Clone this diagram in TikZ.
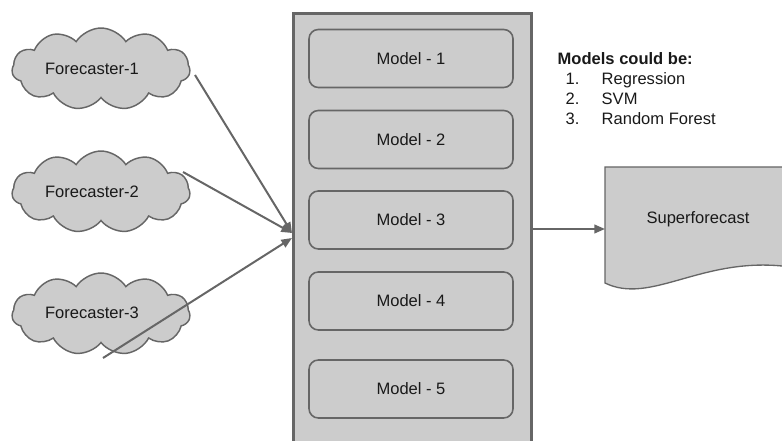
\documentclass[tikz,border=0pt]{standalone}
\usepackage{fontspec}
\setmainfont{Liberation Sans}
\usetikzlibrary{shapes.symbols,arrows.meta}

\definecolor{boxfill}{HTML}{CCCCCC}
\definecolor{boxline}{HTML}{666666}

\begin{document}
\begin{tikzpicture}[x=0.75pt,y=-0.75pt,
  every node/.style={font=\fontsize{12.4}{14}\selectfont, text=black!90},
  fcloud/.style={cloud, cloud puffs=11, cloud puff arc=115, aspect=2.2,
    draw=boxline, fill=boxfill, line width=1.1pt,
    minimum width=178*0.75pt, minimum height=82*0.75pt, inner sep=0pt},
  modelbox/.style={draw=boxline, fill=boxfill, line width=1.2pt,
    rounded corners=7pt, minimum width=204*0.75pt, minimum height=58*0.75pt},
  link/.style={draw=boxline, line width=1.5pt,
    -{Triangle[length=8pt,width=6.5pt]}}
]

% Page size
\useasboundingbox (0,0) rectangle (782,441);
\clip (0,0) rectangle (782,441);

% Forecasters
\node[fcloud] (c1) at (101,69) {};
\node[fcloud] (c2) at (101,192) {};
\node[fcloud] (c3) at (101,314) {};
\node (t1) at (92,69) {Forecaster-1};
\node (t2) at (92,192) {Forecaster-2};
\node (t3) at (92,313) {Forecaster-3};

% Big box holding the models
\node[draw=boxline, fill=boxfill, line width=2.25pt, anchor=north west,
  minimum width=238*0.75pt, minimum height=470*0.75pt] (models) at (292,12) {};

% Model boxes
\foreach \i/\y in {1/58.5, 2/139.5, 3/220, 4/301, 5/389}
  \node[modelbox] (m\i) at (411,\y) {Model - \i};

% Superforecast document
\draw[draw=boxline, fill=boxfill, line width=1pt]
  (605,167) -- (790,167) -- (790,266) -- (782,266)
  .. controls (700,258) and (650,305) .. (605,283) -- cycle;
\node[anchor=base] (sf) at (698,224) {Superforecast};

% List of models
\node[anchor=base west, font=\fontsize{12.4}{14}\selectfont\bfseries] (head) at (553,65) {Models could be:};
\foreach \n/\txt/\y in {1/Regression/85, 2/SVM/105, 3/Random Forest/125}{
  \node[anchor=base west] (n\n) at (561,\y) {\n.};
  \node[anchor=base west] (l\n) at (597,\y) {\txt};
}

% Connector ends
\coordinate (c1out) at (195,75);
\coordinate (c2out) at (183,172);
\coordinate (c3out) at (103,358);
\coordinate (in12) at (292,233);
\coordinate (in3) at (292,238);
\coordinate (mout) at (531,229);
\coordinate (sfin) at (605,229);

% Arrows
\draw[link] (c1out) -- (in12);
\draw[link] (c2out) -- (in12);
\draw[link] (c3out) -- (in3);
\draw[link] (mout) -- (sfin);

\end{tikzpicture}
\end{document}
